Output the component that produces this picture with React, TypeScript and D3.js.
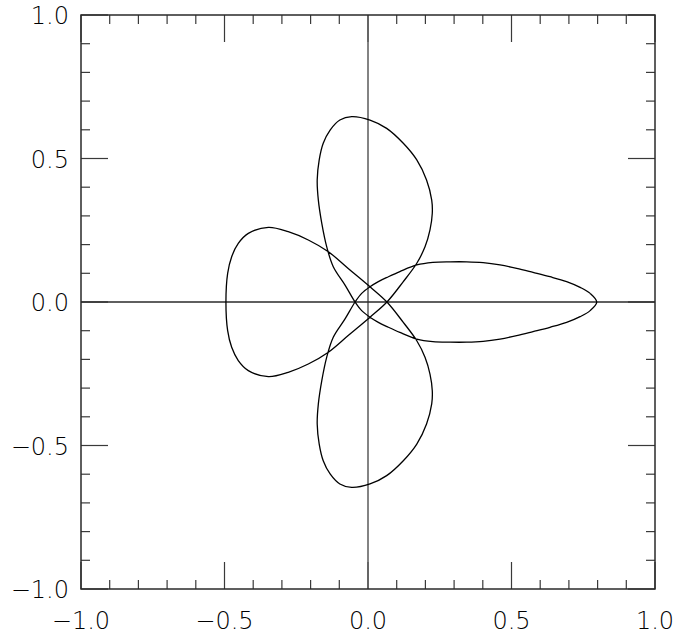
import React, { useEffect, useRef } from "react";
import * as d3 from "d3";

const WIDTH = 675;
const HEIGHT = 634;
const FRAME = { LEFT: 81, RIGHT: 655, TOP: 15, BOTTOM: 589 };

const majorTicks = [-1, -0.5, 0, 0.5, 1];
const tickLabels = ["\u22121.0", "\u22120.5", "0.0", "0.5", "1.0"];

// curve, walked in drawing order (one closed loop)
const rightLobeTop: [number, number][] = [
  [0.797, 0], [0.774, 0.03], [0.739, 0.051], [0.692, 0.071], [0.634, 0.088],
  [0.575, 0.103], [0.518, 0.117], [0.46, 0.129], [0.401, 0.137], [0.344, 0.14],
  [0.286, 0.14], [0.226, 0.138], [0.17, 0.129], [0.111, 0.106],
];
const crossDownLeft: [number, number][] = [
  [0.071, 0.088], [0.036, 0.071], [0.007, 0.053], [-0.022, 0.03], [-0.045, 0], [-0.08, -0.059],
];
const bottomLobe: [number, number][] = [
  [-0.121, -0.123], [-0.144, -0.193], [-0.161, -0.274], [-0.173, -0.355], [-0.177, -0.425],
  [-0.17, -0.495], [-0.156, -0.553], [-0.132, -0.599], [-0.098, -0.634], [-0.057, -0.646],
  [0.007, -0.634], [0.065, -0.605], [0.123, -0.553], [0.17, -0.495], [0.204, -0.425],
  [0.222, -0.355], [0.224, -0.309], [0.216, -0.251], [0.199, -0.193], [0.17, -0.135],
  [0.123, -0.071],
];
const crossUpLeft: [number, number][] = [
  [0.066, 0], [0.007, 0.053], [-0.068, 0.116], [-0.138, 0.175], [-0.208, 0.216], [-0.278, 0.245],
];
const leftLobe: [number, number][] = [
  [-0.347, 0.26], [-0.417, 0.239], [-0.452, 0.204], [-0.475, 0.158], [-0.489, 0.1],
  [-0.495, 0], [-0.489, -0.1], [-0.475, -0.158], [-0.452, -0.204], [-0.417, -0.239],
  [-0.347, -0.26],
];
const crossUpRight: [number, number][] = [
  [-0.278, -0.245], [-0.208, -0.216], [-0.138, -0.175], [-0.068, -0.116], [0.007, -0.053], [0.066, 0],
];
const topLobe: [number, number][] = [
  [0.123, 0.071], [0.17, 0.135], [0.199, 0.193], [0.216, 0.251], [0.224, 0.309],
  [0.222, 0.355], [0.204, 0.425], [0.17, 0.495], [0.123, 0.553], [0.065, 0.605],
  [0.007, 0.634], [-0.057, 0.646], [-0.098, 0.634], [-0.132, 0.599], [-0.156, 0.553],
  [-0.17, 0.495], [-0.177, 0.425], [-0.173, 0.355], [-0.161, 0.274], [-0.144, 0.193],
  [-0.121, 0.123], [-0.08, 0.059],
];
const crossDownRight: [number, number][] = [
  [-0.045, 0], [-0.022, -0.03], [0.007, -0.053], [0.036, -0.071], [0.071, -0.088],
];
const rightLobeBottom: [number, number][] = [
  [0.111, -0.106], [0.17, -0.129], [0.226, -0.138], [0.286, -0.14], [0.344, -0.14],
  [0.401, -0.137], [0.46, -0.129], [0.518, -0.117], [0.575, -0.103], [0.634, -0.088],
  [0.692, -0.071], [0.739, -0.051], [0.774, -0.03],
];

const App = () => {
  const ref = useRef<SVGSVGElement>(null);

  useEffect(() => {
    const svg = d3.select(ref.current);
    svg.selectAll("*").remove();

    const x = d3.scaleLinear().domain([-1, 1]).range([FRAME.LEFT, FRAME.RIGHT]);
    const y = d3.scaleLinear().domain([-1, 1]).range([FRAME.BOTTOM, FRAME.TOP]);
    const minorTicks = x.ticks(20);
    const fmt = (d: number) => tickLabels[majorTicks.indexOf(d)];

    const tickColor = "#3a3a3a";
    const MAJOR = 27;
    const MINOR = 9;

    // inward ticks on all four sides
    const bottom = svg.append("g").attr("transform", `translate(0,${FRAME.BOTTOM})`);
    const top = svg.append("g").attr("transform", `translate(0,${FRAME.TOP})`);
    const left = svg.append("g").attr("transform", `translate(${FRAME.LEFT},0)`);
    const right = svg.append("g").attr("transform", `translate(${FRAME.RIGHT},0)`);

    minorTicks.forEach((t) => {
      const len = majorTicks.includes(+t.toFixed(2)) ? MAJOR : MINOR;
      bottom.append("line").attr("x1", x(t)).attr("x2", x(t)).attr("y1", 0).attr("y2", -len);
      top.append("line").attr("x1", x(t)).attr("x2", x(t)).attr("y1", 0).attr("y2", len);
      left.append("line").attr("y1", y(t)).attr("y2", y(t)).attr("x1", 0).attr("x2", len);
      right.append("line").attr("y1", y(t)).attr("y2", y(t)).attr("x1", 0).attr("x2", -len);
    });
    svg.selectAll("g line").attr("stroke", tickColor).attr("stroke-width", 1.2);

    // zero lines
    svg.append("line")
      .attr("x1", x(0)).attr("x2", x(0)).attr("y1", FRAME.TOP).attr("y2", FRAME.BOTTOM)
      .attr("stroke", "#5a5a5a").attr("stroke-width", 1.5);
    svg.append("line")
      .attr("x1", FRAME.LEFT).attr("x2", FRAME.RIGHT).attr("y1", y(0)).attr("y2", y(0))
      .attr("stroke", "#2a2a2a").attr("stroke-width", 1.3);

    svg.append("rect")
      .attr("x", FRAME.LEFT).attr("y", FRAME.TOP)
      .attr("width", FRAME.RIGHT - FRAME.LEFT).attr("height", FRAME.BOTTOM - FRAME.TOP)
      .attr("fill", "none").attr("stroke", "#2a2a2a").attr("stroke-width", 1.5);

    const font = "'DejaVu Sans', sans-serif";
    svg.append("g").selectAll("text").data(majorTicks).enter().append("text")
      .attr("x", (d) => x(d)).attr("y", FRAME.BOTTOM + 40)
      .attr("text-anchor", "middle")
      .attr("font-family", font).attr("font-size", 24).attr("font-weight", 200)
      .attr("fill", "#000")
      .text(fmt);
    svg.append("g").selectAll("text").data(majorTicks).enter().append("text")
      .attr("x", FRAME.LEFT - 12).attr("y", (d) => y(d) + 9)
      .attr("text-anchor", "end")
      .attr("font-family", font).attr("font-size", 24).attr("font-weight", 200)
      .attr("fill", "#000")
      .text(fmt);

    const loop = [
      ...rightLobeTop, ...crossDownLeft, ...bottomLobe, ...crossUpLeft,
      ...leftLobe, ...crossUpRight, ...topLobe, ...crossDownRight, ...rightLobeBottom,
    ];
    const line = d3.line<[number, number]>()
      .x((d) => x(d[0]))
      .y((d) => y(d[1]))
      .curve(d3.curveCatmullRomClosed.alpha(0.5));

    svg.append("path")
      .attr("d", line(loop))
      .attr("fill", "none")
      .attr("stroke", "#000")
      .attr("stroke-width", 1.3);
  }, []);

  return (
    <svg
      ref={ref}
      width={WIDTH}
      height={HEIGHT}
      style={{ position: "absolute", left: 0, top: 0, background: "#fff" }}
    />
  );
};

export default App;
